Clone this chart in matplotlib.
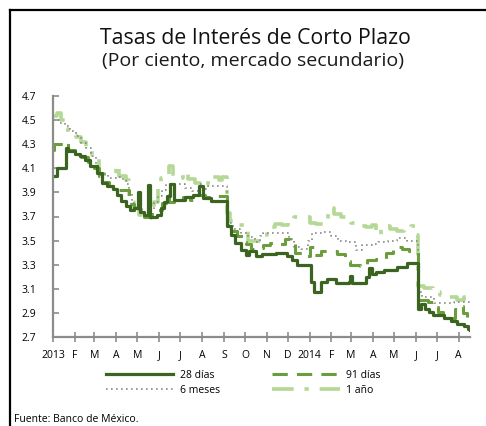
import matplotlib
matplotlib.use("Agg")
import matplotlib.pyplot as plt
import matplotlib.dates as mdates
from matplotlib.lines import Line2D
import pandas as pd

plt.rcParams['font.family'] = ['Open Sans', 'DejaVu Sans']

# ---------------- data ----------------
d28_dates = ['2013-01-01','2013-01-07','2013-01-19','2013-01-22','2013-02-01','2013-02-08','2013-02-15',
             '2013-02-22','2013-03-05','2013-03-12','2013-03-19','2013-03-28','2013-04-02','2013-04-08',
             '2013-04-15','2013-04-21','2013-04-26','2013-05-02','2013-05-05','2013-05-11','2013-05-16',
             '2013-05-19','2013-05-29','2013-06-04','2013-06-08','2013-06-12','2013-06-17','2013-06-22',
             '2013-07-08','2013-07-19','2013-07-28','2013-08-02','2013-08-14','2013-09-06','2013-09-11',
             '2013-09-17','2013-09-25','2013-10-02','2013-10-07','2013-10-17','2013-10-25','2013-11-14',
             '2013-11-30','2013-12-07','2013-12-14','2014-01-03','2014-01-07','2014-01-17','2014-01-25',
             '2014-02-07','2014-02-26','2014-02-27','2014-03-02','2014-03-22','2014-03-27','2014-03-30',
             '2014-04-06','2014-04-16','2014-05-05','2014-05-19','2014-06-04','2014-06-08','2014-06-14',
             '2014-06-19','2014-06-26','2014-07-11','2014-07-21','2014-07-29','2014-08-08','2014-08-14',
             '2014-08-17']
d28_vals = [4.04,4.10,4.27,4.24,4.22,4.20,4.17,
            4.12,4.06,3.98,3.95,3.93,3.88,3.83,
            3.79,3.75,3.77,3.90,3.74,3.71,3.96,
            3.70,3.71,3.77,3.82,3.87,3.97,3.84,
            3.86,3.88,3.95,3.85,3.83,3.62,3.55,
            3.48,3.42,3.38,3.41,3.37,3.39,3.40,
            3.37,3.34,3.30,3.16,3.07,3.16,3.18,
            3.15,3.16,3.21,3.15,3.20,3.27,3.22,
            3.24,3.26,3.28,3.31,2.93,2.97,2.93,
            2.91,2.88,2.86,2.83,2.81,2.79,2.77,
            2.76]

d91_dates = ['2013-01-01','2013-01-02','2013-01-19','2013-01-23','2013-02-01','2013-02-10','2013-02-20',
             '2013-02-28','2013-03-08','2013-03-15','2013-03-22','2013-03-30','2013-04-19','2013-04-26',
             '2013-05-03','2013-05-10','2013-05-20','2013-05-28','2013-06-05','2013-06-10','2013-06-15',
             '2013-06-22','2013-07-05','2013-07-15','2013-07-25','2013-08-05','2013-08-15','2013-09-06',
             '2013-09-12','2013-09-20','2013-09-28','2013-10-02','2013-10-09','2013-10-17','2013-10-27',
             '2013-11-06','2013-11-17','2013-11-27','2013-12-04','2013-12-11','2013-12-22','2014-01-01',
             '2014-01-07','2014-01-17','2014-01-28','2014-02-09','2014-02-20','2014-02-28','2014-03-14',
             '2014-03-23','2014-04-06','2014-04-19','2014-04-30','2014-05-12','2014-05-22','2014-06-04',
             '2014-06-18','2014-06-25','2014-07-02','2014-07-10','2014-07-21','2014-07-26','2014-07-31',
             '2014-08-07','2014-08-13','2014-08-17']
d91_vals = [4.25,4.30,4.32,4.25,4.22,4.19,4.15,
            4.10,4.04,3.99,3.95,3.92,3.80,3.77,
            3.73,3.70,3.72,3.75,3.81,3.88,3.82,
            3.85,3.86,3.84,3.88,3.86,3.87,3.63,
            3.58,3.54,3.49,3.47,3.43,3.44,3.46,
            3.48,3.47,3.51,3.47,3.40,3.37,3.45,
            3.38,3.41,3.41,3.39,3.33,3.30,3.29,
            3.34,3.35,3.40,3.45,3.43,3.41,3.01,
            2.99,2.95,2.91,2.87,2.86,2.93,2.96,
            2.90,2.86,2.85]

m6_dates = ['2013-01-01','2013-01-10','2013-01-18','2013-01-25','2013-02-03','2013-02-10','2013-02-17',
            '2013-02-24','2013-03-03','2013-03-08','2013-03-20','2013-04-01','2013-04-10','2013-04-15',
            '2013-04-19','2013-04-23','2013-04-28','2013-05-08','2013-05-18','2013-05-24','2013-05-30',
            '2013-06-05','2013-06-11','2013-06-25','2013-07-08','2013-07-18','2013-07-28','2013-08-03',
            '2013-08-10','2013-09-06','2013-09-14','2013-09-25','2013-10-05','2013-10-15','2013-10-22',
            '2013-10-27','2013-12-03','2013-12-10','2013-12-20','2013-12-29','2014-01-05','2014-01-20',
            '2014-02-01','2014-02-10','2014-02-25','2014-03-08','2014-03-17','2014-03-30','2014-04-08',
            '2014-04-22','2014-05-05','2014-05-20','2014-06-04','2014-06-10','2014-06-27','2014-07-25',
            '2014-08-17']
m6_vals = [4.50,4.48,4.45,4.41,4.37,4.31,4.27,
           4.20,4.12,4.05,4.02,4.03,4.00,3.97,
           3.89,3.81,3.76,3.73,3.75,3.82,3.87,
           3.92,3.97,3.97,3.94,3.91,3.97,3.93,
           3.95,3.65,3.60,3.56,3.53,3.49,3.54,
           3.56,3.51,3.45,3.43,3.50,3.56,3.57,
           3.54,3.50,3.49,3.42,3.46,3.47,3.49,
           3.50,3.52,3.50,3.07,3.03,2.98,2.99,
           2.99]

y1_dates = ['2013-01-01','2013-01-07','2013-01-13','2013-01-18','2013-01-23','2013-02-02','2013-02-10',
            '2013-02-17','2013-02-25','2013-03-05','2013-03-08','2013-03-28','2013-04-01','2013-04-05',
            '2013-04-15','2013-04-19','2013-04-26','2013-05-03','2013-05-12','2013-05-20','2013-05-25',
            '2013-05-30','2013-06-03','2013-06-10','2013-06-15','2013-06-21','2013-07-01','2013-07-05',
            '2013-07-12','2013-07-22','2013-08-01','2013-08-10','2013-08-15','2013-08-25','2013-08-30',
            '2013-09-06','2013-09-10','2013-09-20','2013-09-30','2013-10-06','2013-10-15','2013-10-25',
            '2013-11-02','2013-11-12','2013-11-22','2013-12-01','2013-12-10','2013-12-22','2014-01-01',
            '2014-01-10','2014-01-20','2014-01-27','2014-02-05','2014-02-15','2014-03-01','2014-03-10',
            '2014-03-22','2014-03-30','2014-04-05','2014-04-12','2014-04-25','2014-05-05','2014-05-15',
            '2014-05-25','2014-06-01','2014-06-04','2014-06-12','2014-06-25','2014-07-05','2014-07-18',
            '2014-07-30','2014-08-08','2014-08-17']
y1_vals = [4.53,4.56,4.50,4.43,4.38,4.36,4.32,
           4.27,4.21,4.18,4.05,4.05,4.13,4.04,
           4.00,3.82,3.77,3.71,3.69,3.72,3.82,
           3.93,4.02,4.05,4.12,4.03,4.02,4.07,
           4.01,3.98,4.00,3.97,4.03,4.00,4.03,
           3.73,3.66,3.63,3.60,3.50,3.50,3.55,
           3.61,3.64,3.63,3.65,3.70,3.70,3.65,
           3.64,3.66,3.77,3.72,3.70,3.65,3.62,
           3.61,3.63,3.55,3.62,3.60,3.58,3.60,
           3.62,3.55,3.12,3.11,3.07,3.05,3.03,
           3.01,3.03,3.03]

series_labels = ['28 días', '6 meses', '91 días', '1 año']
month_labels = ['2013', 'F', 'M', 'A', 'M', 'J', 'J', 'A', 'S', 'O', 'N', 'D',
                '2014', 'F', 'M', 'A', 'M', 'J', 'J', 'A']
y_ticks = [2.7, 2.9, 3.1, 3.3, 3.5, 3.7, 3.9, 4.1, 4.3, 4.5, 4.7]

# ---------------- figure ----------------
fig = plt.figure(figsize=(4.86, 4.26), dpi=100)
ax = fig.add_axes([53/486, 1-337/426, (470-53)/486, (337-96)/426])

c28 = '#3b6420'
c91 = '#6b9d3c'
c6m = '#8a8a8a'
c1a = '#b4d896'

l1a, = ax.plot(pd.to_datetime(y1_dates), y1_vals, drawstyle='steps-post', color=c1a, lw=2.6,
               dashes=(6, 3, 1.2, 3), label=series_labels[3])
l6m, = ax.plot(pd.to_datetime(m6_dates), m6_vals, drawstyle='steps-post', color=c6m, lw=1.2,
               dashes=(1, 2), label=series_labels[1])
l91, = ax.plot(pd.to_datetime(d91_dates), d91_vals, drawstyle='steps-post', color=c91, lw=2.2,
               dashes=(5, 3), label=series_labels[2])
l28, = ax.plot(pd.to_datetime(d28_dates), d28_vals, drawstyle='steps-post', color=c28, lw=2.3,
               label=series_labels[0])

month_ticks = pd.date_range('2013-01-01', periods=len(month_labels), freq='MS')
ax.set_xticks(month_ticks)
ax.set_xticklabels(month_labels)
ax.set_xlim(pd.Timestamp('2013-01-01'), pd.Timestamp('2014-08-17'))
ax.set_ylim(2.7, 4.7)
ax.set_yticks(y_ticks)
ax.set_yticklabels([f'{v:.1f}' for v in y_ticks])

for s in ['top', 'right']:
    ax.spines[s].set_visible(False)
for s in ['left', 'bottom']:
    ax.spines[s].set_color('#8c8c8c')
    ax.spines[s].set_linewidth(1.6)
ax.tick_params(axis='x', direction='inout', length=7, width=1.2, color='#8c8c8c',
               labelsize=7.5, pad=6)
ax.tick_params(axis='y', direction='in', length=4, width=1.2, color='#8c8c8c',
               labelsize=7.5, pad=12)

fig.text(255/486, 1-38/426, 'Tasas de Interés de Corto Plazo', ha='center', va='center',
         fontsize=15.3, fontweight=500, color='#111111')
fig.text(253/486, 1-61/426, '(Por ciento, mercado secundario)', ha='center', va='center',
         fontsize=14, color='#1a1a1a')

fig.legend(handles=[l28, l6m, l91, l1a], loc='center', ncol=2,
           bbox_to_anchor=(0.5, 1-383/426), frameon=False, fontsize=7.5,
           handlelength=6.5, columnspacing=5.0, handletextpad=0.6, labelspacing=0.4)

fig.text(14/486, 1-419/426, 'Fuente: Banco de México.', ha='left', va='center', fontsize=7.5)

# frame
fig.add_artist(Line2D([10/486, 10/486], [0, 1-10/426], transform=fig.transFigure, color='black', lw=1.6))
fig.add_artist(Line2D([10/486, 1], [1-10/426, 1-10/426], transform=fig.transFigure, color='black', lw=1.6))

fig.savefig('out.png', dpi=100)
